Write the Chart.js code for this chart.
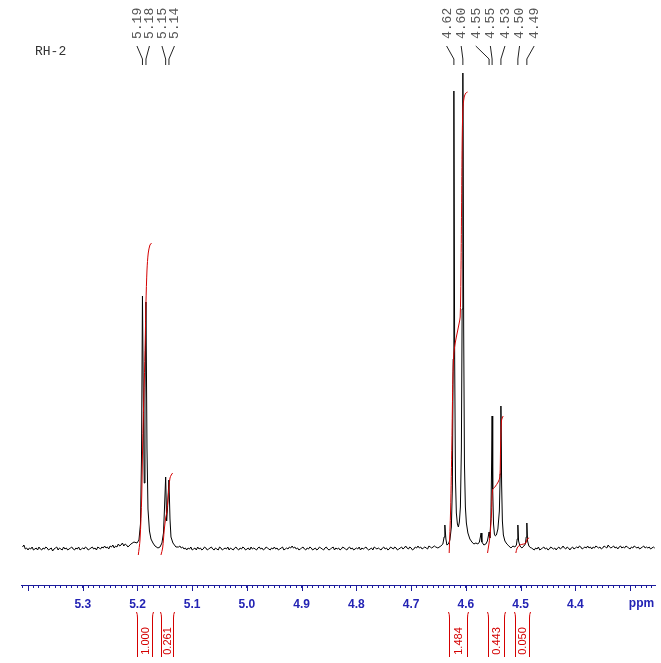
<!DOCTYPE html>
<html><head><meta charset="utf-8">
<script src="https://cdn.jsdelivr.net/npm/chart.js@4.4.1/dist/chart.umd.min.js"></script>
<style>html,body{margin:0;padding:0;background:#fff}#wrap{width:661px;height:663px}</style>
</head><body><div id="wrap"><canvas id="c" width="661" height="663"></canvas></div>
<script>
// ---------- data ----------
const sampleName = 'RH-2';
const axisUnit = 'ppm';
const axisMax = 5.4128;   // left edge (ppm)
const axisMin = 4.2535;   // right edge (ppm)
const tickLabels = ['5.3','5.2','5.1','5.0','4.9','4.8','4.7','4.6','4.5','4.4'];

// baseline noise, sampled every 0.0025 ppm (intensity, arbitrary units)
const noiseStep = 0.0025;
const noiseLeftStart = 5.410;
const noiseLeft = [2,4,0,1,-1,1,0,2,-1,0,1,-1,2,0,-1,1,0,2,1,-1,
  0,1,-2,0,1,2,-1,1,0,-1,2,0,1,-1,0,1,2,0,-1,1,
  0,2,-1,0,1,0,2,1,-1,0,1,2,0,1,-1,2,1,0,2,1,
  3,1,2,0,3,2,4,1,3,2,5,3,4,6,3,5,4];
const noiseMidStart = 5.125;
const noiseMid = [2,3,1,2,0,1,-1,1,0,2,-1,0,1,-1,2,0,1,-1,0,2,
  1,-1,0,1,2,0,-1,1,0,-1,2,1,-1,0,1,0,2,-1,1,0,
  -1,1,2,0,-1,1,0,2,1,-1,0,1,-1,2,0,1,0,-1,1,2,
  0,1,-1,0,2,1,0,-1,1,0,2,0,1,-1,0,1,2,-1,0,1,
  0,2,1,3,1,2,0,1,-1,0,1,2,0,-1,1,0,2,1,-1,0,
  1,-1,0,2,1,0,-1,1,2,0,-1,0,1,2,-1,1,0,1,-1,0,
  2,1,0,-1,1,2,0,1,-1,0,1,0,2,-1,1,0,1,2,0,-1,
  0,1,-1,2,1,0,1,0,-1,1,2,0,1,-1,0,2,1,0,2,1,
  -1,0,1,2,0,1,3,1,0,2,1,-1,0,2,1,3,1,2,0,1,
  2,1,0,3,2,1,2,3,2];
const noiseRightStart = 4.480;
const noiseRight = [1,0,-1,1,0,2,-1,0,1,2,0,1,-1,0,2,1,0,1,-1,1,
  2,0,1,3,1,0,2,1,-1,1,2,0,1,2,1,3,2,0,1,2,
  1,3,1,2,0,2,1,3,2,1,2,0,1,3,2,1,4,2,1,2,
  3,1,2,0,2,3,1,2,1,3,2,1,0,2,1,3,2,1,2,0,
  1,2,3,1,2,1,2,0,1,2,1];

// peak region 5.22 - 5.13 ppm
const groupAPpm = [5.2174,5.2119,5.2064,5.2009,5.1973,5.1945,5.1927,5.1909,5.1890,5.1876,5.1863,5.1845,5.1826,5.1808,5.1781,5.1753,5.1717,5.1680,5.1626,5.1589,5.1553,5.1525,5.1507,5.1485,5.1467,5.1452,5.1425,5.1406,5.1388,5.1352,5.1297];
const groupAInt = [2,5,7,6,9,25,90,253,130,66,150,247,100,40,18,10,6,3,1,2,6,16,40,72,28,40,69,30,12,6,2];

// peak region 4.65 - 4.48 ppm
const groupBPpm = [4.6511,4.6457,4.6420,4.6398,4.6384,4.6365,4.6347,4.6320,4.6292,4.6265,4.6247,4.6232,4.6219,4.6205,4.6190,4.6174,4.6155,4.6137,4.6119,4.6100,4.6082,4.6068,4.6055,4.6040,4.6026,4.6009,4.5991,4.5963,4.5927,4.5890,4.5854,4.5817,4.5781,4.5753,4.5735,4.5722,4.5708,4.5671,4.5635,4.5607,4.5589,4.5576,4.5562,4.5543,4.5532,4.5521,4.5510,4.5495,4.5479,4.5461,4.5442,4.5415,4.5388,4.5373,4.5360,4.5347,4.5333,4.5315,4.5287,4.5251,4.5214,4.5177,4.5141,4.5105,4.5077,4.5062,4.5050,4.5037,4.5013,4.4977,4.4940,4.4913,4.4898,4.4886,4.4873,4.4849,4.4813];
const groupBInt = [1,3,5,12,24,10,4,5,9,22,60,190,458,190,70,36,25,22,27,42,100,240,476,220,85,42,26,16,10,7,5,6,5,7,12,16,7,4,5,8,13,17,11,30,75,133,60,25,15,13,14,20,38,75,143,65,28,14,8,5,3,1,3,2,4,10,24,8,3,1,3,5,12,26,8,3,1];

// integral curves (ppm, integral height)
const integral1Ppm = [5.1985,5.1954,5.1923,5.1905,5.1887,5.1876,5.1858,5.1845,5.1826,5.1803,5.1772,5.1741];
const integral1Val = [-6,9,52,106,146,166,209,246,279,296,304,306];
const integral2Ppm = [5.1571,5.1540,5.1511,5.1485,5.1467,5.1443,5.1425,5.1406,5.1383,5.1357];
const integral2Val = [-6,1,19,31,36,49,62,71,74,76];
const integral3Ppm = [4.6305,4.6279,4.6256,4.6237,4.6219,4.6195,4.6159,4.6122,4.6104,4.6091,4.6079,4.6068,4.6055,4.6031,4.6000,4.5969];
const integral3Val = [-4,39,106,172,196,206,216,226,232,272,339,406,439,452,456,457];
const integral4Ppm = [4.5604,4.5562,4.5531,4.5513,4.5470,4.5410,4.5379,4.5366,4.5348,4.5319];
const integral4Val = [-4,12,36,59,62,67,72,102,129,133];
const integral5Ppm = [4.5087,4.5063,4.5014,4.4941,4.4904,4.4880,4.4844];
const integral5Val = [-4,1,4,5,6,10,11];

// integration regions and values
const integralFrom = [5.2009,5.1571,4.6311,4.5598,4.5105];
const integralTo   = [5.1735,5.1352,4.5982,4.5306,4.4849];
const integralLabels = ['1.000','0.261','1.484','0.443','0.050'];

// peak picking
const peakPpm = [5.1909,5.1845,5.1485,5.1425,4.6219,4.6055,4.5576,4.5521,4.5360,4.5050,4.4886];
const peakLabels = ['5.19','5.18','5.15','5.14','4.62','4.60','4.55','4.55','4.53','4.50','4.49'];

// ---------- build datasets ----------
function gridPoints(start, arr) { return arr.map((v, i) => ({x: +(start - i * noiseStep).toFixed(4), y: v})); }
function zipPoints(px, py) { return px.map((p, i) => ({x: p, y: py[i]})); }
const spectrum = [].concat(
  gridPoints(noiseLeftStart, noiseLeft),
  zipPoints(groupAPpm, groupAInt),
  gridPoints(noiseMidStart, noiseMid),
  zipPoints(groupBPpm, groupBInt),
  gridPoints(noiseRightStart, noiseRight)
).sort((a, b) => b.x - a.x);

const INT_RED = '#d40000';
const AXIS_BLUE = '#1c1c9c';
const LABEL_BLUE = '#2323b4';
const integralSets = [
  [integral1Ppm, integral1Val], [integral2Ppm, integral2Val], [integral3Ppm, integral3Val],
  [integral4Ppm, integral4Val], [integral5Ppm, integral5Val]
].map(([p, v]) => ({
  data: zipPoints(p, v), borderColor: INT_RED, borderWidth: 1, pointRadius: 0, tension: 0.3, order: 1, fill: false
}));

// ---------- plugins ----------
const decorations = {
  id: 'decorations',
  afterDraw(chart) {
    const ctx = chart.ctx, xs = chart.scales.x, area = chart.chartArea;
    ctx.save();
    // major ticks
    ctx.strokeStyle = AXIS_BLUE; ctx.lineWidth = 1;
    xs.ticks.forEach(t => {
      const v10 = t.value * 10;
      if (Math.abs(v10 - Math.round(v10)) < 1e-6) {
        const px = Math.round(xs.getPixelForValue(t.value)) + 0.5;
        ctx.beginPath(); ctx.moveTo(px, area.bottom); ctx.lineTo(px, area.bottom + 6); ctx.stroke();
      }
    });
    // unit label
    ctx.fillStyle = LABEL_BLUE; ctx.font = 'bold 12px "Liberation Sans", Arial, sans-serif';
    ctx.textAlign = 'center'; ctx.textBaseline = 'middle';
    ctx.fillText(axisUnit, area.right - 14, area.bottom + 19);

    // sample name
    ctx.fillStyle = '#333'; ctx.font = '13px "Liberation Mono", "Courier New", monospace';
    ctx.textAlign = 'left'; ctx.textBaseline = 'middle';
    ctx.fillText(sampleName, 35, 52);

    // peak labels with connectors
    const pk = peakPpm.map((p, i) => ({px: xs.getPixelForValue(p), label: peakLabels[i]})).sort((a, b) => a.px - b.px);
    const clusters = [];
    pk.forEach(p => {
      const c = clusters[clusters.length - 1];
      if (c && p.px - c[c.length - 1].px < 30) c.push(p); else clusters.push([p]);
    });
    clusters.forEach(c => {
      const n = c.length, span = c[n - 1].px - c[0].px;
      const sp = n > 1 ? Math.max(12.5, 1.2 * span / (n - 1)) : 0;
      const mid = (c[0].px + c[n - 1].px) / 2;
      c.forEach((p, i) => { p.lx = mid + (i - (n - 1) / 2) * sp; });
    });
    ctx.strokeStyle = '#222'; ctx.lineWidth = 1;
    pk.forEach(p => {
      ctx.beginPath(); ctx.moveTo(p.lx, 46); ctx.lineTo(p.px, 59); ctx.lineTo(p.px, 65); ctx.stroke();
      ctx.save(); ctx.translate(p.lx, 39); ctx.rotate(-Math.PI / 2);
      ctx.fillStyle = '#555'; ctx.font = '13px "Liberation Mono", "Courier New", monospace';
      ctx.textAlign = 'left'; ctx.textBaseline = 'middle';
      ctx.fillText(p.label, 0, 0.5); ctx.restore();
    });

    // integration regions
    ctx.strokeStyle = INT_RED; ctx.fillStyle = INT_RED;
    integralFrom.forEach((f, i) => {
      const x1 = Math.round(xs.getPixelForValue(f)) + 0.5, x2 = Math.round(xs.getPixelForValue(integralTo[i])) + 0.5;
      ctx.beginPath(); ctx.moveTo(x1 - 1, 612); ctx.quadraticCurveTo(x1, 614, x1, 618); ctx.lineTo(x1, 657); ctx.stroke();
      ctx.beginPath(); ctx.moveTo(x2 + 1, 612); ctx.quadraticCurveTo(x2, 614, x2, 618); ctx.lineTo(x2, 657); ctx.stroke();
      ctx.save(); ctx.translate((x1 + x2) / 2, 641); ctx.rotate(-Math.PI / 2);
      ctx.font = '11px "Liberation Sans", Arial, sans-serif'; ctx.textAlign = 'center'; ctx.textBaseline = 'middle';
      ctx.fillText(integralLabels[i], 0, 0.5); ctx.restore();
    });
    ctx.restore();
  }
};

new Chart(document.getElementById('c'), {
  type: 'line',
  data: {
    datasets: [
      ...integralSets,
      {data: spectrum, borderColor: '#000', borderWidth: 1, pointRadius: 0, tension: 0, order: 2, fill: false}
    ]
  },
  options: {
    responsive: false, animation: false, parsing: false, normalized: true,
    layout: {padding: {top: 60, left: 21, right: 5, bottom: 0}},
    plugins: {legend: {display: false}, tooltip: {enabled: false}},
    scales: {
      x: {
        type: 'linear', reverse: true, min: axisMin, max: axisMax, position: 'bottom',
        afterFit: s => { s.height = 78; },
        border: {display: true, color: AXIS_BLUE, width: 1},
        grid: {display: true, drawOnChartArea: false, drawTicks: true, tickLength: 3, color: AXIS_BLUE, lineWidth: 1},
        ticks: {
          stepSize: 0.01, includeBounds: false, autoSkip: false, maxRotation: 0, minRotation: 0, padding: 9,
          color: LABEL_BLUE, font: {family: '"Liberation Sans", Arial, sans-serif', size: 12, weight: 'bold'},
          callback: v => { const s = v.toFixed(1); return (Math.abs(v - Number(s)) < 1e-6 && tickLabels.includes(s)) ? s : ''; }
        }
      },
      y: {display: false, min: -36, max: 489}
    }
  },
  plugins: [decorations]
});
</script></body></html>
